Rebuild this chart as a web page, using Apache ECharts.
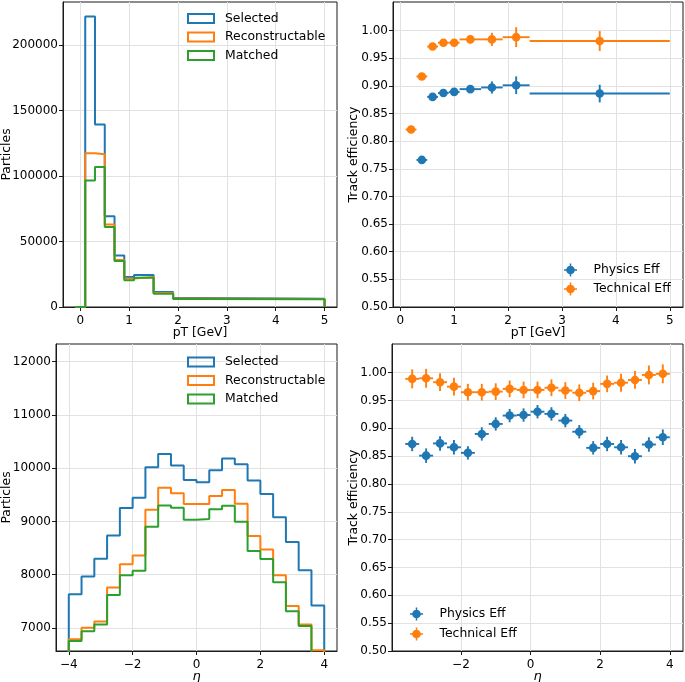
<!DOCTYPE html>
<html><head><meta charset="utf-8">
<script src="https://cdn.jsdelivr.net/npm/echarts@6/dist/echarts.min.js"></script>
<style>html,body{margin:0;padding:0;background:#fff}#c{width:685px;height:682px}</style>
</head><body><div id="c"></div>
<script>
// ---------- data ----------
const ptEdges = [-0.1, 0.1, 0.3, 0.5, 0.7, 0.9, 1.1, 1.5, 1.9, 2.4, 5.0];
const ptSelected = [0, 222000, 139500, 69300, 39300, 22900, 24500, 11500, 6900, 6400];
const ptReconstructable = [0, 117500, 116800, 63000, 35900, 21700, 22900, 10700, 6500, 6100];
const ptMatched = [0, 96600, 107000, 61100, 35200, 20400, 22400, 10200, 6200, 5900];

const etaEdges = [-4.0, -3.6, -3.2, -2.8, -2.4, -2.0, -1.6, -1.2, -0.8, -0.4, 0.0, 0.4, 0.8, 1.2, 1.6, 2.0, 2.4, 2.8, 3.2, 3.6, 4.0];
const etaSelected = [7634, 7966, 8299, 8738, 9252, 9447, 10018, 10268, 10049, 9779, 9735, 9961, 10181, 10074, 9767, 9516, 9077, 8612, 8085, 7420];
const etaReconstructable = [6787, 7006, 7119, 7759, 8198, 8361, 9221, 9635, 9528, 9327, 9327, 9478, 9591, 9334, 8725, 8474, 7991, 7414, 7063, 6580];
const etaMatched = [6755, 6937, 7063, 7621, 7991, 8073, 8901, 9302, 9258, 9033, 9045, 9227, 9296, 8995, 8443, 8293, 7859, 7314, 7038, 6450];

const ptTechX = [0.2, 0.4, 0.6, 0.8, 1.0, 1.3, 1.7, 2.15, 3.7];
const ptTechXErr = [0.1, 0.1, 0.1, 0.1, 0.1, 0.2, 0.2, 0.25, 1.3];
const ptTechEff = [0.821, 0.917, 0.971, 0.978, 0.978, 0.984, 0.984, 0.988, 0.981];
const ptTechErr = [0.003, 0.003, 0.004, 0.005, 0.005, 0.007, 0.012, 0.018, 0.018];
const ptPhysX = [0.4, 0.6, 0.8, 1.0, 1.3, 1.7, 2.15, 3.7];
const ptPhysXErr = [0.1, 0.1, 0.1, 0.1, 0.2, 0.2, 0.25, 1.3];
const ptPhysEff = [0.766, 0.880, 0.887, 0.889, 0.894, 0.897, 0.901, 0.886];
const ptPhysErr = [0.004, 0.005, 0.005, 0.006, 0.007, 0.011, 0.016, 0.016];

const etaEffX = [-3.4, -3.0, -2.6, -2.2, -1.8, -1.4, -1.0, -0.6, -0.2, 0.2, 0.6, 1.0, 1.4, 1.8, 2.2, 2.6, 3.0, 3.4, 3.8];
const etaEffXErr = [0.2, 0.2, 0.2, 0.2, 0.2, 0.2, 0.2, 0.2, 0.2, 0.2, 0.2, 0.2, 0.2, 0.2, 0.2, 0.2, 0.2, 0.2, 0.2];
const etaTechEff = [0.989, 0.990, 0.983, 0.975, 0.965, 0.965, 0.966, 0.971, 0.969, 0.969, 0.973, 0.968, 0.964, 0.967, 0.980, 0.982, 0.987, 0.996, 0.998];
const etaTechErr = [0.017, 0.017, 0.016, 0.016, 0.015, 0.015, 0.015, 0.015, 0.015, 0.015, 0.015, 0.015, 0.015, 0.015, 0.015, 0.016, 0.016, 0.017, 0.017];
const etaPhysEff = [0.872, 0.851, 0.873, 0.866, 0.856, 0.890, 0.908, 0.923, 0.924, 0.930, 0.926, 0.914, 0.894, 0.865, 0.872, 0.866, 0.850, 0.871, 0.884];
const etaPhysErr = [0.013, 0.013, 0.013, 0.013, 0.012, 0.012, 0.012, 0.012, 0.012, 0.012, 0.012, 0.012, 0.012, 0.012, 0.013, 0.013, 0.013, 0.013, 0.014];

// tick labels
const ptTicks = [0, 1, 2, 3, 4, 5];
const countTicks = [0, 50000, 100000, 150000, 200000];
const effTicks = [0.50, 0.55, 0.60, 0.65, 0.70, 0.75, 0.80, 0.85, 0.90, 0.95, 1.00];
const etaTicks = [-4, -2, 0, 2, 4];
const etaCountTicks = [7000, 8000, 9000, 10000, 11000, 12000];

const histNames = ['Selected', 'Reconstructable', 'Matched'];
const effNames = ['Physics Eff', 'Technical Eff'];

// ---------- styling ----------
const C_BLUE = '#1f77b4', C_ORANGE = '#ff7f0e', C_GREEN = '#2ca02c';
const FONT = 'DejaVu Sans';
const INK = '#1a1a1a';
const GRIDC = '#e2e2e2';

function fmtMinus(s) { return String(s).replace('-', '\u2212'); }
function inTicks(ticks, v) { return ticks.some(t => Math.abs(t - v) < 1e-7); }

function stepLine(edges, vals) {
  const pts = [[edges[0], 0]];
  for (let i = 0; i < vals.length; i++) {
    pts.push([edges[i], vals[i]]);
    pts.push([edges[i + 1], vals[i]]);
  }
  pts.push([edges[edges.length - 1], 0]);
  return pts;
}

function makeAxis(kind, gridIndex, min, max, ticks, fmt, name, nameGap, italic) {
  const ax = {
    type: 'value', gridIndex, min, max,
    splitNumber: kind === 'y' && ticks.length > 8 ? 10 : 5,
    name, nameLocation: 'middle', nameGap, nameMoveOverlap: false,
    nameTextStyle: { color: '#000', fontSize: italic ? 13 : 12.4, fontFamily: FONT, fontStyle: italic ? 'italic' : 'normal' },
    axisLine: { show: true, onZero: false, lineStyle: { color: INK, width: 1 } },
    axisTick: { show: true, inside: false, length: 4, lineStyle: { color: INK, width: 1 }, customValues: ticks },
    axisLabel: {
      show: true, margin: kind === 'y' ? 5 : 8, color: '#000', fontSize: 12, fontFamily: FONT,
      customValues: ticks,
      formatter: v => inTicks(ticks, v) ? fmtMinus(fmt(v)) : '',
      showMinLabel: true, showMaxLabel: true, hideOverlap: false
    },
    splitLine: { show: true, lineStyle: { color: GRIDC, width: 1 } },
    scale: true
  };
  if (kind === 'y') ax.nameRotate = 90;
  return ax;
}

function histSeries(name, edges, vals, color, idx) {
  return {
    type: 'line', name, xAxisIndex: idx, yAxisIndex: idx,
    data: stepLine(edges, vals), symbol: 'none', showSymbol: false,
    lineStyle: { color, width: 2 }, itemStyle: { color },
    clip: true, silent: true, animation: false
  };
}

function errSeries(name, xs, xerr, ys, yerr, color, idx) {
  const rows = xs.map((x, i) => [x, ys[i], xerr[i], yerr[i]]);
  return {
    type: 'custom', name, xAxisIndex: idx, yAxisIndex: idx,
    dimensions: ['x', 'y', 'xerr', 'yerr'],
    encode: { x: 0, y: 1 },
    data: rows, itemStyle: { color }, clip: true, silent: true, animation: false,
    renderItem: function (params, api) {
      const x = api.value(0), y = api.value(1), xe = api.value(2), ye = api.value(3);
      const c = api.coord([x, y]);
      const l = api.coord([x - xe, y]), r = api.coord([x + xe, y]);
      const t = api.coord([x, y + ye]), b = api.coord([x, y - ye]);
      return {
        type: 'group', children: [
          { type: 'line', shape: { x1: l[0], y1: l[1], x2: r[0], y2: r[1] }, style: { stroke: color, lineWidth: 1.9 } },
          { type: 'line', shape: { x1: t[0], y1: t[1], x2: b[0], y2: b[1] }, style: { stroke: color, lineWidth: 1.9 } },
          { type: 'circle', shape: { cx: c[0], cy: c[1], r: 4.3 }, style: { fill: color } }
        ]
      };
    }
  };
}

const ERR_ICON = 'path://M5.3,0h1.4v12h-1.4z M0,5.3h12v1.4h-12z M2,6a4,4 0 1,1 8,0a4,4 0 1,1 -8,0z';

function histLegend(left, top) {
  const cols = [C_BLUE, C_ORANGE, C_GREEN];
  return {
    left, top, orient: 'vertical', itemWidth: 26, itemHeight: 9, itemGap: 4.5,
    selectedMode: false, padding: 0,
    textStyle: { color: '#000', fontSize: 12.4, fontFamily: FONT, lineHeight: 14, padding: [0, 0, 0, 6] },
    data: histNames.map((n, i) => ({ name: n, icon: 'rect', itemStyle: { color: 'rgba(0,0,0,0)', borderColor: cols[i], borderWidth: 2 } }))
  };
}
function effLegend(left, top, gap) {
  const cols = [C_BLUE, C_ORANGE];
  return {
    left, top, orient: 'vertical', itemWidth: 24, itemHeight: 13, itemGap: gap,
    selectedMode: false, padding: 0, symbolKeepAspect: true,
    textStyle: { color: '#000', fontSize: 12.4, fontFamily: FONT, lineHeight: 14, padding: [0, 0, 0, 6] },
    data: effNames.map((n, i) => ({ name: n, icon: ERR_ICON, itemStyle: { color: cols[i], borderWidth: 0 } }))
  };
}

const intFmt = v => String(Math.round(v));
const eff2 = v => v.toFixed(2);
const gridBase = { show: true, borderColor: INK, borderWidth: 1, backgroundColor: 'rgba(0,0,0,0)', containLabel: false, outerBoundsMode: 'none' };

const option = {
  animation: false,
  backgroundColor: '#ffffff',
  textStyle: { fontFamily: FONT },
  grid: [
    Object.assign({ left: 63, top: 2, width: 274, height: 305 }, gridBase),
    Object.assign({ left: 393, top: 2, width: 290, height: 305 }, gridBase),
    Object.assign({ left: 56, top: 344, width: 281, height: 307 }, gridBase),
    Object.assign({ left: 392, top: 344, width: 291, height: 307 }, gridBase)
  ],
  xAxis: [
    makeAxis('x', 0, -0.355, 5.255, ptTicks, intFmt, 'pT [GeV]', 20),
    makeAxis('x', 1, -0.135, 5.245, ptTicks, intFmt, 'pT [GeV]', 20),
    makeAxis('x', 2, -4.4, 4.4, etaTicks, intFmt, '\u03b7', 19, true),
    makeAxis('x', 3, -3.98, 4.38, etaTicks, intFmt, '\u03b7', 19, true)
  ],
  yAxis: [
    makeAxis('y', 0, 0, 233100, countTicks, intFmt, 'Particles', 50),
    makeAxis('y', 1, 0.5, 1.0516, effTicks, eff2, 'Track efficiency', 33),
    makeAxis('y', 2, 6567, 12333, etaCountTicks, intFmt, 'Particles', 43),
    makeAxis('y', 3, 0.5, 1.0516, effTicks, eff2, 'Track efficiency', 32)
  ],
  legend: [
    histLegend(187, 11.5),
    effLegend(564, 263, 5),
    histLegend(187, 355),
    effLegend(410, 607, 6)
  ],
  series: [
    histSeries('Selected', ptEdges, ptSelected, C_BLUE, 0),
    histSeries('Reconstructable', ptEdges, ptReconstructable, C_ORANGE, 0),
    histSeries('Matched', ptEdges, ptMatched, C_GREEN, 0),
    errSeries('Physics Eff', ptPhysX, ptPhysXErr, ptPhysEff, ptPhysErr, C_BLUE, 1),
    errSeries('Technical Eff', ptTechX, ptTechXErr, ptTechEff, ptTechErr, C_ORANGE, 1),
    histSeries('Selected', etaEdges, etaSelected, C_BLUE, 2),
    histSeries('Reconstructable', etaEdges, etaReconstructable, C_ORANGE, 2),
    histSeries('Matched', etaEdges, etaMatched, C_GREEN, 2),
    errSeries('Physics Eff', etaEffX, etaEffXErr, etaPhysEff, etaPhysErr, C_BLUE, 3),
    errSeries('Technical Eff', etaEffX, etaEffXErr, etaTechEff, etaTechErr, C_ORANGE, 3)
  ]
};

const chart = echarts.init(document.getElementById('c'), null, { renderer: 'canvas' });
chart.setOption(option);
</script></body></html>
